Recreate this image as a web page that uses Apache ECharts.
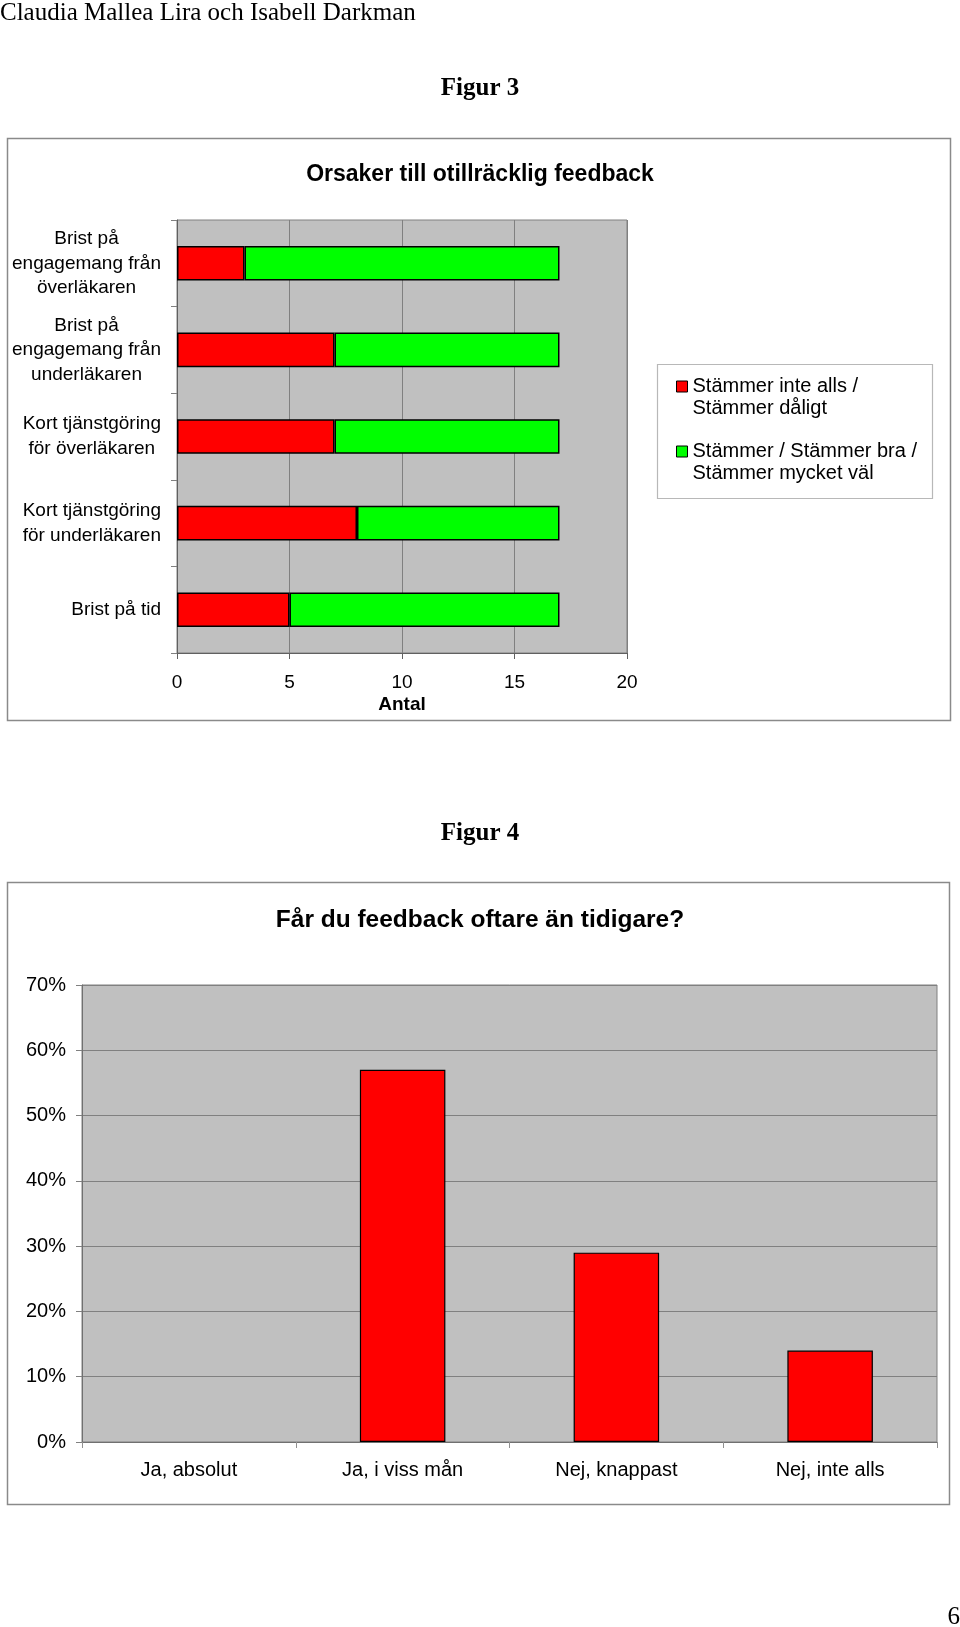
<!DOCTYPE html>
<html><head><meta charset="utf-8">
<script src="https://cdn.jsdelivr.net/npm/echarts@6/dist/echarts.min.js"></script>
<style>html,body{margin:0;padding:0;background:#fff}#c{width:960px;height:1627px}</style>
</head><body><div id="c"></div>
<script>
// ---- Data ----
const headerText = 'Claudia Mallea Lira och Isabell Darkman';
const fig3Label = 'Figur 3';
const fig3Title = 'Orsaker till otillräcklig feedback';
const fig3Categories = [
  'Brist på\nengagemang från\növerläkaren',
  'Brist på\nengagemang från\nunderläkaren',
  'Kort tjänstgöring\nför överläkaren',
  'Kort tjänstgöring\nför underläkaren',
  'Brist på tid'
];
const fig3SeriesNames = ['Stämmer inte alls /\nStämmer dåligt', 'Stämmer / Stämmer bra /\nStämmer mycket väl'];
const fig3Disagree = [3, 7, 7, 8, 5];
const fig3Agree = [14, 10, 10, 9, 12];
const fig3AxisName = 'Antal';

const fig4Label = 'Figur 4';
const fig4Title = 'Får du feedback oftare än tidigare?';
const fig4Categories = ['Ja, absolut', 'Ja, i viss mån', 'Nej, knappast', 'Nej, inte alls'];
const fig4Values = [0, 57, 29, 14];
const pageNumber = '6';

// ---- Chart ----
const SANS = "'Liberation Sans', Arial, Helvetica, sans-serif";
const SERIF = "'Liberation Serif', 'Times New Roman', serif";
const chart = echarts.init(document.getElementById('c'), null, {renderer: 'canvas'});

const legendText = {
  fontFamily: SANS, fontSize: 20, lineHeight: 22, color: '#000',
  backgroundColor: 'rgba(255,255,255,0)'
};
// leading blank line puts the icon beside the first text line
const legendFormatter = function (name) { return '\n' + name; };

const option = {
  backgroundColor: '#ffffff',
  animation: false,
  title: [
    {text: headerText, left: 0, top: 0, padding: 0,
     textStyle: {fontFamily: SERIF, fontSize: 25, fontWeight: 'normal', lineHeight: 26, color: '#000'}},
    {text: fig3Label, left: 'center', top: 76, padding: 0,
     textStyle: {fontFamily: SERIF, fontSize: 25, fontWeight: 'bold', lineHeight: 26, color: '#000'}},
    {text: fig3Title, left: 'center', top: 161, padding: 0,
     textStyle: {fontFamily: SANS, fontSize: 23, fontWeight: 'bold', lineHeight: 28, color: '#000'}},
    {text: fig4Label, left: 'center', top: 821, padding: 0,
     textStyle: {fontFamily: SERIF, fontSize: 25, fontWeight: 'bold', lineHeight: 26, color: '#000'}},
    {text: fig4Title, left: 'center', top: 905, padding: 0,
     textStyle: {fontFamily: SANS, fontSize: 24.5, fontWeight: 'bold', lineHeight: 30, color: '#000'}},
    {text: pageNumber, right: 0, top: 1604, padding: 0,
     textStyle: {fontFamily: SERIF, fontSize: 25, fontWeight: 'normal', lineHeight: 26, color: '#000'}}
  ],
  graphic: [
    {type: 'rect', shape: {x: 7.5, y: 138.5, width: 943, height: 582}, style: {fill: 'none', stroke: '#8a8a8a', lineWidth: 1.5}, silent: true},
    {type: 'rect', shape: {x: 657.5, y: 364.5, width: 275, height: 134}, style: {fill: 'none', stroke: '#b8b8b8', lineWidth: 1.2}, silent: true},
    {type: 'rect', shape: {x: 7.5, y: 882.5, width: 942, height: 622}, style: {fill: 'none', stroke: '#8a8a8a', lineWidth: 1.5}, silent: true}
  ],
  legend: [
    {data: [fig3SeriesNames[0]], left: 676, top: 353.5, padding: 0, orient: 'vertical',
     icon: 'rect', itemWidth: 11, itemHeight: 11, itemStyle: {borderColor: '#000', borderWidth: 1},
     formatter: legendFormatter, textStyle: legendText, selectedMode: false},
    {data: [fig3SeriesNames[1]], left: 676, top: 418.5, padding: 0, orient: 'vertical',
     icon: 'rect', itemWidth: 11, itemHeight: 11, itemStyle: {borderColor: '#000', borderWidth: 1},
     formatter: legendFormatter, textStyle: legendText, selectedMode: false}
  ],
  grid: [
    {left: 177, top: 220, width: 450, height: 433, show: true, backgroundColor: '#C0C0C0',
     borderColor: '#808080', borderWidth: 1, containLabel: false, outerBoundsMode: 'none'},
    {left: 82, top: 985, width: 855, height: 457, show: true, backgroundColor: '#C0C0C0',
     borderColor: '#808080', borderWidth: 1, containLabel: false, outerBoundsMode: 'none'}
  ],
  xAxis: [
    {gridIndex: 0, type: 'value', min: 0, max: 20, interval: 5,
     axisLine: {show: true, lineStyle: {color: '#606060', width: 1}},
     axisTick: {show: true, length: 6, inside: false, lineStyle: {color: '#606060'}},
     axisLabel: {fontFamily: SANS, fontSize: 19, color: '#000', margin: 20},
     splitLine: {show: true, lineStyle: {color: '#808080', width: 1}},
     name: fig3AxisName, nameLocation: 'middle', nameGap: 42,
     nameTextStyle: {fontFamily: SANS, fontSize: 19, fontWeight: 'bold', color: '#000'}},
    {gridIndex: 1, type: 'category', data: fig4Categories,
     axisLine: {show: true, lineStyle: {color: '#707070', width: 1}},
     axisTick: {show: true, length: 6, inside: false, alignWithLabel: false, lineStyle: {color: '#909090'}},
     axisLabel: {fontFamily: SANS, fontSize: 20, color: '#000', margin: 18, interval: 0},
     splitLine: {show: false}}
  ],
  yAxis: [
    {gridIndex: 0, type: 'category', inverse: true, data: fig3Categories,
     axisLine: {show: true, lineStyle: {color: '#606060', width: 1}},
     axisTick: {show: true, length: 6, inside: false, alignWithLabel: false, lineStyle: {color: '#808080'}},
     axisLabel: {
       interval: 0, margin: 16, color: '#000', fontFamily: SANS, fontSize: 19,
       formatter: function (v) { return v.split('\n').map(function (l) { return '{c|' + l + '}'; }).join('\n'); },
       rich: {c: {align: 'center', fontFamily: SANS, fontSize: 19, lineHeight: 24.5, color: '#000'}}
     },
     splitLine: {show: false}},
    {gridIndex: 1, type: 'value', min: 0, max: 70, interval: 10,
     axisLine: {show: true, lineStyle: {color: '#707070', width: 1}},
     axisTick: {show: true, length: 6, inside: false, lineStyle: {color: '#808080'}},
     axisLabel: {fontFamily: SANS, fontSize: 20, color: '#000', margin: 16, formatter: '{value}%'},
     splitLine: {show: true, lineStyle: {color: '#808080', width: 1.2}}}
  ],
  series: [
    {type: 'bar', name: fig3SeriesNames[0], stack: 'f3', xAxisIndex: 0, yAxisIndex: 0,
     data: fig3Disagree, barWidth: '40%',
     itemStyle: {color: '#FF0000', borderColor: '#000', borderWidth: 1.5}},
    {type: 'bar', name: fig3SeriesNames[1], stack: 'f3', xAxisIndex: 0, yAxisIndex: 0,
     data: fig3Agree, barWidth: '40%',
     itemStyle: {color: '#00FF00', borderColor: '#000', borderWidth: 1.5}},
    {type: 'bar', name: fig4Title, xAxisIndex: 1, yAxisIndex: 1,
     data: fig4Values.map(function (v) { return v === 0 ? {value: v, itemStyle: {borderWidth: 0}} : v; }),
     barWidth: '40%',
     itemStyle: {color: '#FF0000', borderColor: '#000', borderWidth: 1.2}}
  ]
};
chart.setOption(option);
</script>
</body></html>
